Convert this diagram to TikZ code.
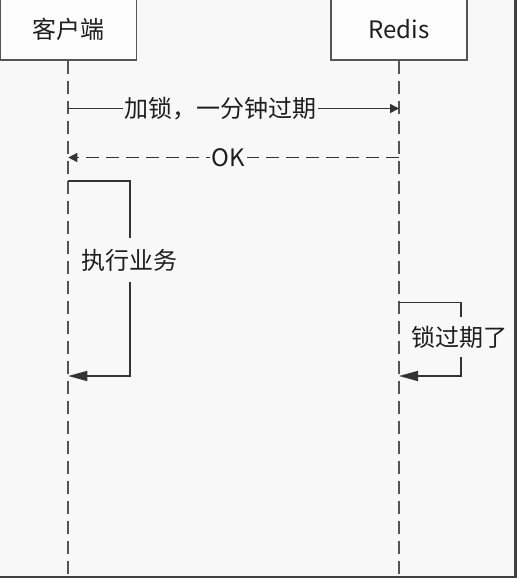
\documentclass[tikz,border=0pt]{standalone}
\usepackage{fontspec}
\setmainfont{Noto Sans CJK SC}
\usetikzlibrary{arrows.meta}
\definecolor{bg}{HTML}{F8F8F8}
\definecolor{ln}{HTML}{333333}
\definecolor{life}{HTML}{555555}
\definecolor{txt}{HTML}{1E1E1E}
\tikzset{
  actor/.style={draw=life, line width=1.4pt, fill=white!60!bg, minimum width=136pt, minimum height=64pt, inner sep=0pt, font=\fontsize{24}{27}\selectfont, text=txt, text height=26pt, text depth=4pt},
  lifeline/.style={draw=life, line width=2pt, dash pattern=on 13pt off 7pt},
  msg/.style={draw=ln, line width=1.5pt},
  reply/.style={draw=ln, line width=1.5pt, dash pattern=on 13pt off 7pt},
  smalltip/.style={-{Triangle[length=9pt,width=9pt]}},
  bigtip/.style={-{Triangle[length=19pt,width=10pt]}},
  lab/.style={fill=bg, inner xsep=1.5pt, inner ysep=2pt, font=\fontsize{24}{27}\selectfont, text=txt},
  selflab/.style={fill=bg, inner xsep=2pt, inner ysep=9pt, font=\fontsize{24}{27}\selectfont, text=txt},
}
\begin{document}
\begin{tikzpicture}[x=1pt,y=-1pt]
\useasboundingbox (0,0) rectangle (517,578);
\clip (0,0) rectangle (517,578);
\fill[bg] (0,0) rectangle (517,578);
% actors
\node[actor] (client) at (68.3,28) {客户端};
\node[actor] (redis) at (399,28) {Redis};
% lifelines
\coordinate (cend) at (68.3,590);
\coordinate (rend) at (399,590);
\draw[lifeline] (client.south) -- (cend);
\draw[lifeline] (redis.south) -- (rend);
% message 1
\coordinate (m1s) at (68.3,108.5);
\coordinate (m1e) at (399,108.5);
\draw[msg,smalltip] (m1s) -- node[lab,pos=0.461] (m1lab) {加锁，一分钟过期} (m1e);
% reply OK
\coordinate (m2s) at (399,157.5);
\coordinate (m2e) at (68.3,157.5);
\draw[reply,smalltip] (m2s) -- node[lab,pos=0.516,inner xsep=2pt] (m2lab) {OK} (m2e);
% self message client
\coordinate (s1a) at (68.3,181);
\coordinate (s1b) at (130,181);
\coordinate (s1c) at (130,376);
\coordinate (s1d) at (68.3,376);
\draw[msg,bigtip] (s1a) -- (s1b) -- (s1c) -- (s1d);
\node[selflab,inner ysep=11pt] (s1lab) at (129.5,260) {执行业务};
% self message redis
\coordinate (s2a) at (399,302.5);
\coordinate (s2b) at (461,302.5);
\coordinate (s2c) at (461,376);
\coordinate (s2d) at (399,376);
\draw[msg,bigtip] (s2a) -- (s2b) -- (s2c) -- (s2d);
\node[selflab] (s2lab) at (459,337) {锁过期了};
% window border
\draw[draw=black!75, line width=2.5pt] (515.5,0) -- (515.5,577) -- (0,577);
\end{tikzpicture}
\end{document}
